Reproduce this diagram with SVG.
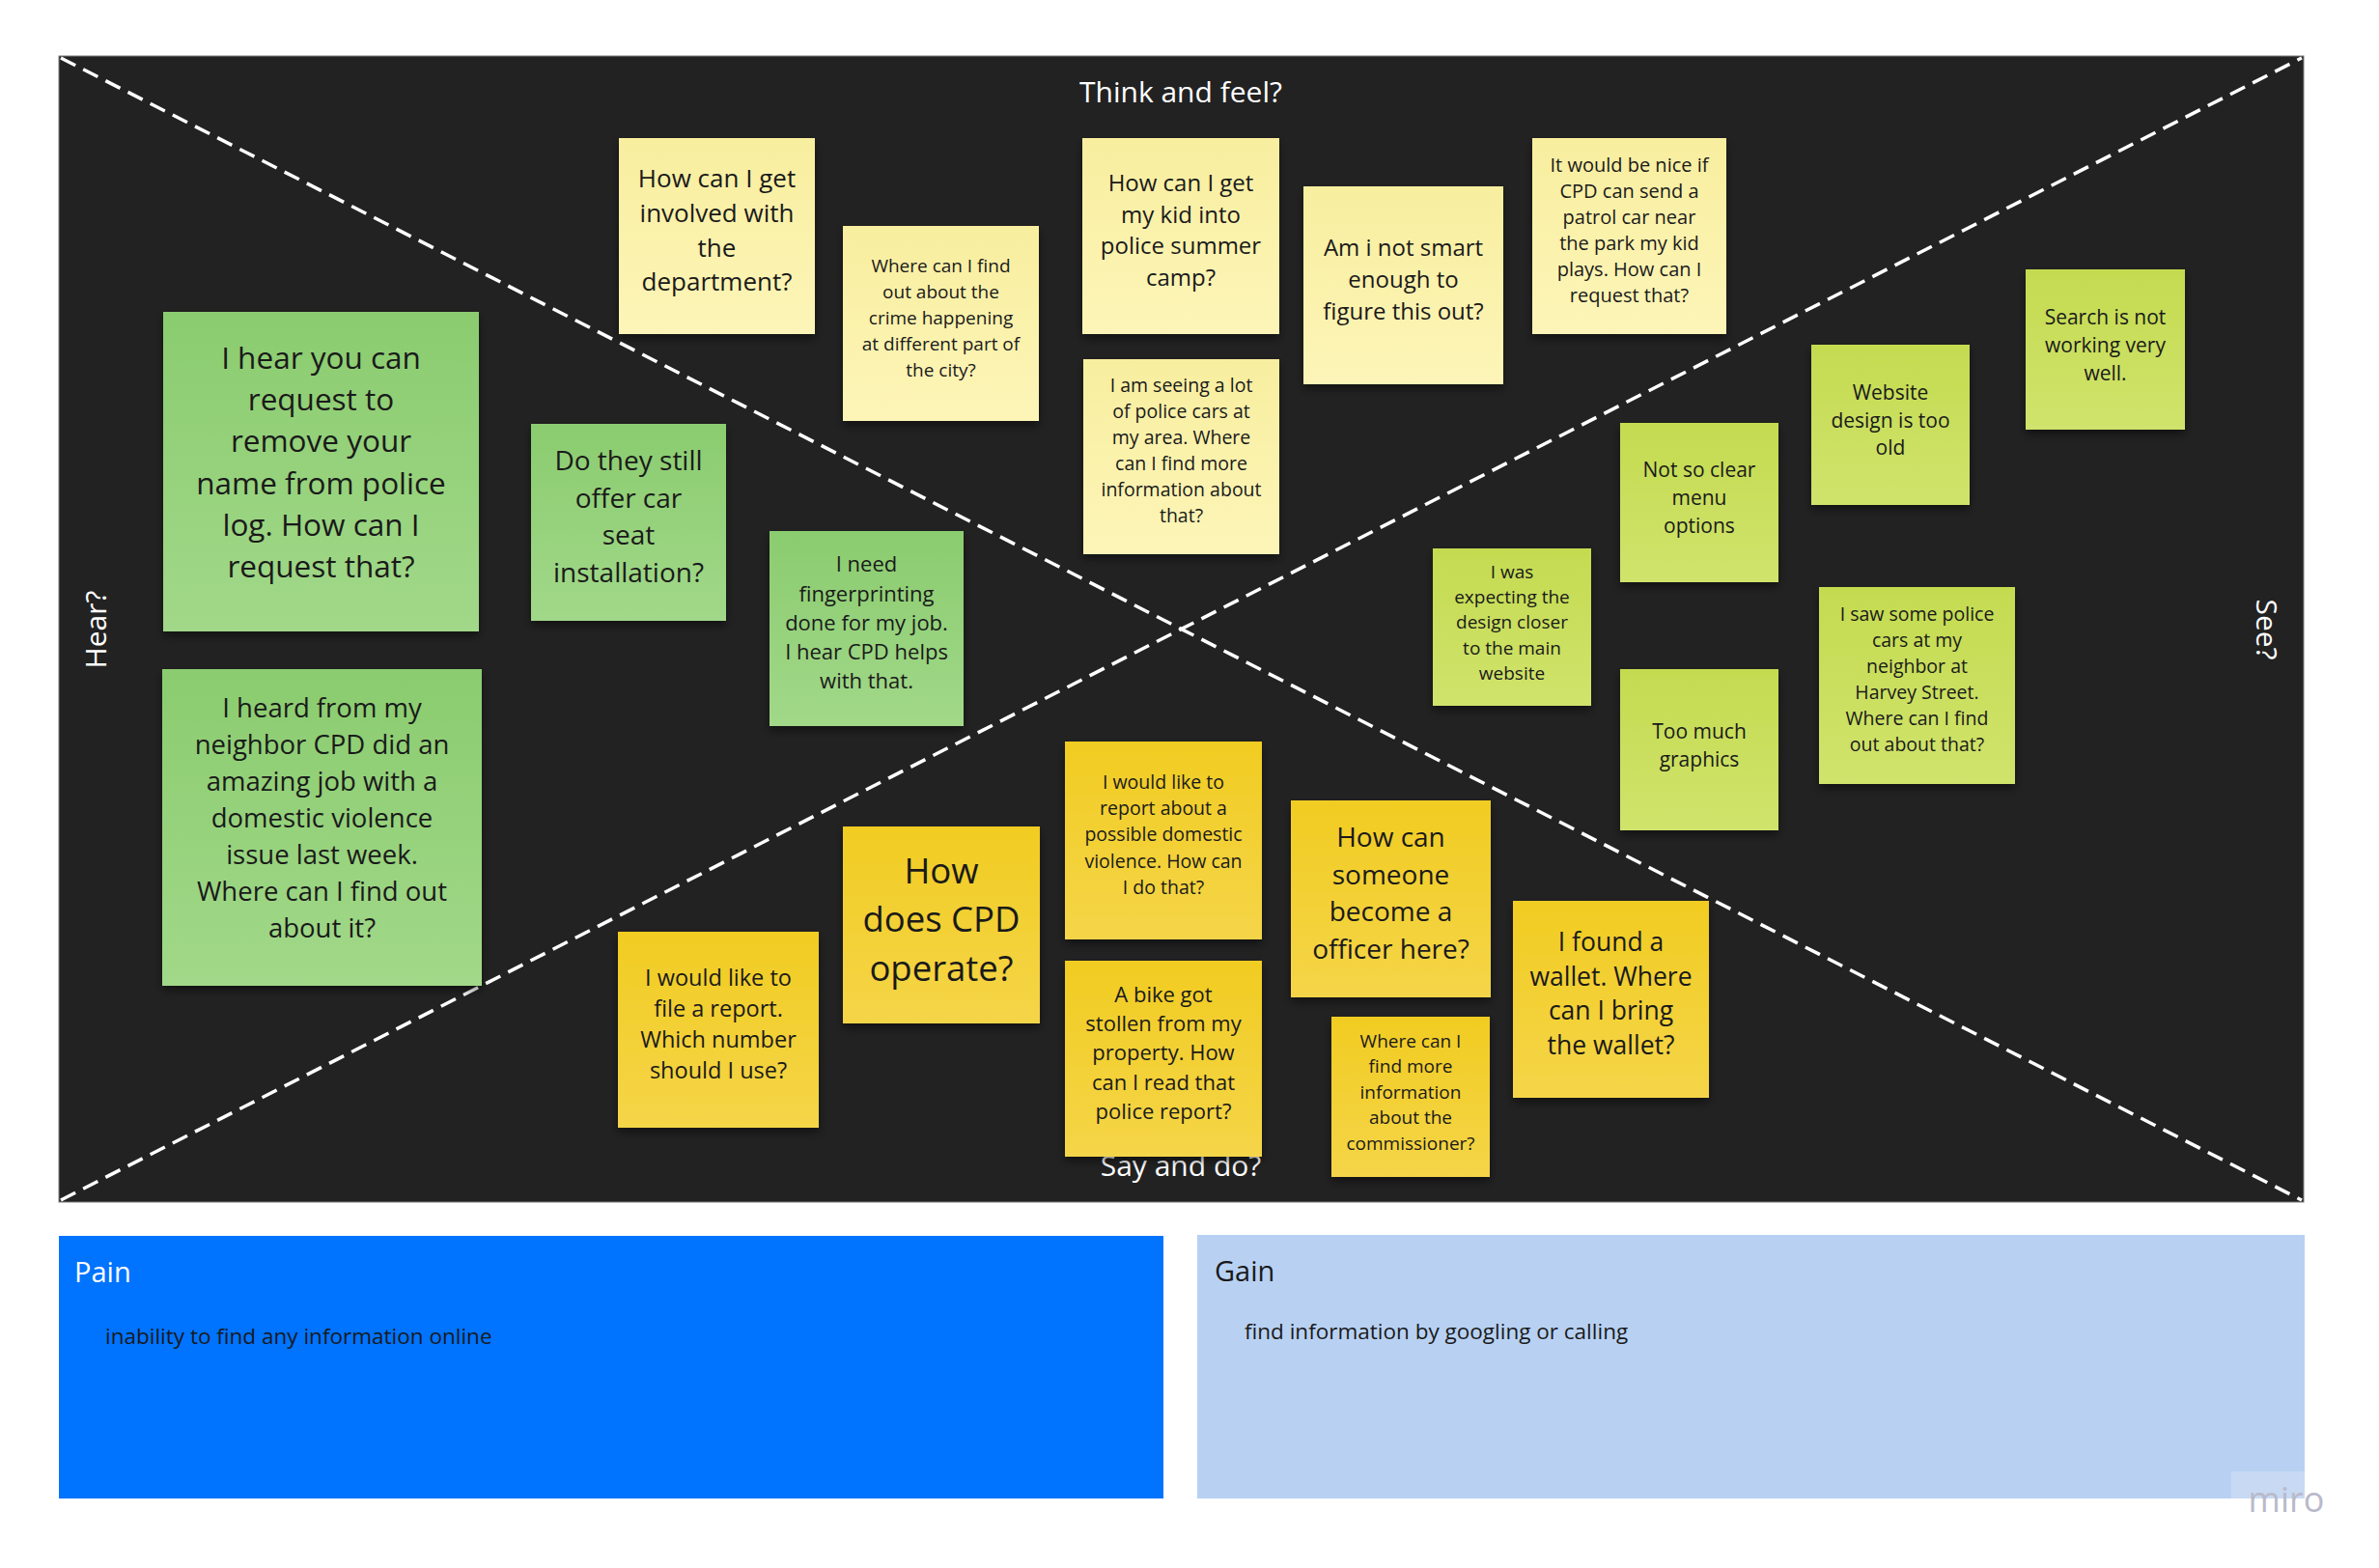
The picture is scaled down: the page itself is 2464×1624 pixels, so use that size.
<svg xmlns="http://www.w3.org/2000/svg" width="2464" height="1624" viewBox="0 0 2464 1624">
<style>
.lbl{font-family:"Open Sans","Liberation Sans",sans-serif;fill:#ffffff;font-size:30px}
.nt{font-family:"Open Sans","Liberation Sans",sans-serif;fill:#1a1a1a;text-anchor:middle}
.py{fill:url(#gPY)}
.gr{fill:url(#gGR)}
.lm{fill:url(#gLM)}
.yl{fill:url(#gYL)}
.note rect{filter:url(#sh)}
.div{stroke:#ffffff;stroke-width:3.5;stroke-dasharray:17 9;fill:none}
</style>
<defs>
<linearGradient id="gPY" x1="0" y1="0" x2="0" y2="1"><stop offset="0" stop-color="#f8ee9f"/><stop offset="1" stop-color="#fdf5b8"/></linearGradient>
<linearGradient id="gGR" x1="0" y1="0" x2="0" y2="1"><stop offset="0" stop-color="#8bcc6f"/><stop offset="1" stop-color="#a1d889"/></linearGradient>
<linearGradient id="gLM" x1="0" y1="0" x2="0" y2="1"><stop offset="0" stop-color="#c4db50"/><stop offset="1" stop-color="#d0e36c"/></linearGradient>
<linearGradient id="gYL" x1="0" y1="0" x2="0" y2="1"><stop offset="0" stop-color="#f1cc22"/><stop offset="1" stop-color="#f5d548"/></linearGradient>
<filter id="sh" x="-10%" y="-10%" width="120%" height="125%"><feDropShadow dx="0" dy="5" stdDeviation="5" flood-color="#000" flood-opacity="0.45"/></filter>
</defs>
<rect x="0" y="0" width="2464" height="1624" fill="#ffffff"/>
<g id="board">
<rect x="61" y="58" width="2325" height="1187" fill="#222222" stroke="#7a7a7a" stroke-width="1"/>
</g>
<g id="quadrant-lines">
<line class="div" x1="63" y1="60" x2="2384" y2="1243"/>
<line class="div" x1="63" y1="1243" x2="2384" y2="60"/>
</g>
<g id="labels">
<text class="lbl" x="1223" y="106" text-anchor="middle">Think and feel?</text>
<text class="lbl" x="1223" y="1218" text-anchor="middle" fill="#e6e6e6">Say and do?</text>
<text class="lbl" text-anchor="middle" transform="translate(110,652) rotate(-90)">Hear?</text>
<text class="lbl" text-anchor="middle" transform="translate(2337,652) rotate(90)">See?</text>
</g>

<g id="n1" class="note"><rect class="py" x="641" y="143" width="203" height="203"/>
<text class="nt" font-size="26"><tspan x="742.5" y="194.4">How can I get</tspan><tspan x="742.5" dy="35.6">involved with</tspan><tspan x="742.5" dy="35.6">the</tspan><tspan x="742.5" dy="35.6">department?</tspan></text></g>

<g id="n2" class="note"><rect class="py" x="873" y="234" width="203" height="202"/>
<text class="nt" font-size="19"><tspan x="974.5" y="281.8">Where can I find</tspan><tspan x="974.5" dy="27">out about the</tspan><tspan x="974.5" dy="27">crime happening</tspan><tspan x="974.5" dy="27">at different part of</tspan><tspan x="974.5" dy="27">the city?</tspan></text></g>

<g id="n3" class="note"><rect class="py" x="1121" y="143" width="204" height="203"/>
<text class="nt" font-size="24"><tspan x="1223" y="198.4">How can I get</tspan><tspan x="1223" dy="32.4">my kid into</tspan><tspan x="1223" dy="32.4">police summer</tspan><tspan x="1223" dy="32.4">camp?</tspan></text></g>

<g id="n4" class="note"><rect class="py" x="1350" y="193" width="207" height="205"/>
<text class="nt" font-size="24"><tspan x="1453.5" y="265.4">Am i not smart</tspan><tspan x="1453.5" dy="32.6">enough to</tspan><tspan x="1453.5" dy="32.6">figure this out?</tspan></text></g>

<g id="n5" class="note"><rect class="py" x="1587" y="143" width="201" height="203"/>
<text class="nt" font-size="20"><tspan x="1687.5" y="177.9">It would be nice if</tspan><tspan x="1687.5" dy="27.1">CPD can send a</tspan><tspan x="1687.5" dy="27.1">patrol car near</tspan><tspan x="1687.5" dy="27.1">the park my kid</tspan><tspan x="1687.5" dy="27.1">plays. How can I</tspan><tspan x="1687.5" dy="27.1">request that?</tspan></text></g>

<g id="n6" class="note"><rect class="py" x="1122" y="372" width="203" height="202"/>
<text class="nt" font-size="19.5"><tspan x="1223.5" y="406.4">I am seeing a lot</tspan><tspan x="1223.5" dy="27">of police cars at</tspan><tspan x="1223.5" dy="27">my area. Where</tspan><tspan x="1223.5" dy="27">can I find more</tspan><tspan x="1223.5" dy="27">information about</tspan><tspan x="1223.5" dy="27">that?</tspan></text></g>

<g id="n7" class="note"><rect class="gr" x="169" y="323" width="327" height="331"/>
<text class="nt" font-size="31.5"><tspan x="332.5" y="381.7">I hear you can</tspan><tspan x="332.5" dy="43.3">request to</tspan><tspan x="332.5" dy="43.3">remove your</tspan><tspan x="332.5" dy="43.3">name from police</tspan><tspan x="332.5" dy="43.3">log. How can I</tspan><tspan x="332.5" dy="43.3">request that?</tspan></text></g>

<g id="n8" class="note"><rect class="gr" x="550" y="439" width="202" height="204"/>
<text class="nt" font-size="28"><tspan x="651" y="486.6">Do they still</tspan><tspan x="651" dy="38.9">offer car</tspan><tspan x="651" dy="38.9">seat</tspan><tspan x="651" dy="38.9">installation?</tspan></text></g>

<g id="n9" class="note"><rect class="gr" x="797" y="550" width="201" height="202"/>
<text class="nt" font-size="22"><tspan x="897.5" y="592.4">I need</tspan><tspan x="897.5" dy="30.2">fingerprinting</tspan><tspan x="897.5" dy="30.2">done for my job.</tspan><tspan x="897.5" dy="30.2">I hear CPD helps</tspan><tspan x="897.5" dy="30.2">with that.</tspan></text></g>

<g id="n10" class="note"><rect class="gr" x="168" y="693" width="331" height="328"/>
<text class="nt" font-size="27.5"><tspan x="333.5" y="743.4">I heard from my</tspan><tspan x="333.5" dy="37.9">neighbor CPD did an</tspan><tspan x="333.5" dy="37.9">amazing job with a</tspan><tspan x="333.5" dy="37.9">domestic violence</tspan><tspan x="333.5" dy="37.9">issue last week.</tspan><tspan x="333.5" dy="37.9">Where can I find out</tspan><tspan x="333.5" dy="37.9">about it?</tspan></text></g>

<g id="n11" class="note"><rect class="lm" x="2098" y="279" width="165" height="166"/>
<text class="nt" font-size="21"><tspan x="2180.5" y="335.6">Search is not</tspan><tspan x="2180.5" dy="29">working very</tspan><tspan x="2180.5" dy="29">well.</tspan></text></g>

<g id="n12" class="note"><rect class="lm" x="1876" y="357" width="164" height="166"/>
<text class="nt" font-size="21"><tspan x="1958" y="414.1">Website</tspan><tspan x="1958" dy="28.5">design is too</tspan><tspan x="1958" dy="28.5">old</tspan></text></g>

<g id="n13" class="note"><rect class="lm" x="1678" y="438" width="164" height="165"/>
<text class="nt" font-size="21"><tspan x="1760" y="494.1">Not so clear</tspan><tspan x="1760" dy="29">menu</tspan><tspan x="1760" dy="29">options</tspan></text></g>

<g id="n14" class="note"><rect class="lm" x="1484" y="568" width="164" height="163"/>
<text class="nt" font-size="19"><tspan x="1566" y="598.8">I was</tspan><tspan x="1566" dy="26.3">expecting the</tspan><tspan x="1566" dy="26.3">design closer</tspan><tspan x="1566" dy="26.3">to the main</tspan><tspan x="1566" dy="26.3">website</tspan></text></g>

<g id="n15" class="note"><rect class="lm" x="1884" y="608" width="203" height="204"/>
<text class="nt" font-size="19.5"><tspan x="1985.5" y="643.4">I saw some police</tspan><tspan x="1985.5" dy="27">cars at my</tspan><tspan x="1985.5" dy="27">neighbor at</tspan><tspan x="1985.5" dy="27">Harvey Street.</tspan><tspan x="1985.5" dy="27">Where can I find</tspan><tspan x="1985.5" dy="27">out about that?</tspan></text></g>

<g id="n16" class="note"><rect class="lm" x="1678" y="693" width="164" height="167"/>
<text class="nt" font-size="21"><tspan x="1760" y="764.6">Too much</tspan><tspan x="1760" dy="29">graphics</tspan></text></g>

<g id="n17" class="note"><rect class="yl" x="640" y="965" width="208" height="203"/>
<text class="nt" font-size="23.5"><tspan x="744" y="1020.9">I would like to</tspan><tspan x="744" dy="32">file a report.</tspan><tspan x="744" dy="32">Which number</tspan><tspan x="744" dy="32">should I use?</tspan></text></g>

<g id="n18" class="note"><rect class="yl" x="873" y="856" width="204" height="204"/>
<text class="nt" font-size="36.5"><tspan x="975" y="914.7">How</tspan><tspan x="975" dy="50.4">does CPD</tspan><tspan x="975" dy="50.4">operate?</tspan></text></g>

<g id="n19" class="note"><rect class="yl" x="1103" y="768" width="204" height="205"/>
<text class="nt" font-size="19.5"><tspan x="1205" y="817">I would like to</tspan><tspan x="1205" dy="27.2">report about a</tspan><tspan x="1205" dy="27.2">possible domestic</tspan><tspan x="1205" dy="27.2">violence. How can</tspan><tspan x="1205" dy="27.2">I do that?</tspan></text></g>

<g id="n20" class="note"><rect class="yl" x="1103" y="995" width="204" height="203"/>
<text class="nt" font-size="22"><tspan x="1205" y="1037.7">A bike got</tspan><tspan x="1205" dy="30.3">stollen from my</tspan><tspan x="1205" dy="30.3">property. How</tspan><tspan x="1205" dy="30.3">can I read that</tspan><tspan x="1205" dy="30.3">police report?</tspan></text></g>

<g id="n21" class="note"><rect class="yl" x="1337" y="829" width="207" height="204"/>
<text class="nt" font-size="28"><tspan x="1440.5" y="877.1">How can</tspan><tspan x="1440.5" dy="38.6">someone</tspan><tspan x="1440.5" dy="38.6">become a</tspan><tspan x="1440.5" dy="38.6">officer here?</tspan></text></g>

<g id="n22" class="note"><rect class="yl" x="1379" y="1053" width="164" height="166"/>
<text class="nt" font-size="19"><tspan x="1461" y="1085">Where can I</tspan><tspan x="1461" dy="26.4">find more</tspan><tspan x="1461" dy="26.4">information</tspan><tspan x="1461" dy="26.4">about the</tspan><tspan x="1461" dy="26.4">commissioner?</tspan></text></g>

<g id="n23" class="note"><rect class="yl" x="1567" y="933" width="203" height="204"/>
<text class="nt" font-size="26.5"><tspan x="1668.5" y="985">I found a</tspan><tspan x="1668.5" dy="35.6">wallet. Where</tspan><tspan x="1668.5" dy="35.6">can I bring</tspan><tspan x="1668.5" dy="35.6">the wallet?</tspan></text></g>

<g id="pain">
<rect x="61" y="1280" width="1144" height="272" fill="#0073ff"/>
<text x="77" y="1328" font-family="Open Sans, Liberation Sans, sans-serif" font-size="29" fill="#ffffff">Pain</text>
<text x="109" y="1392" font-family="Open Sans, Liberation Sans, sans-serif" font-size="22.5" fill="#1a1a1a">inability to find any information online</text>
</g>
<g id="gain">
<rect x="1240" y="1279" width="1147" height="273" fill="#b8d1f3"/>
<text x="1258" y="1327" font-family="Open Sans, Liberation Sans, sans-serif" font-size="29" fill="#1a1a1a">Gain</text>
<text x="1289" y="1387" font-family="Open Sans, Liberation Sans, sans-serif" font-size="22.5" fill="#1a1a1a">find information by googling or calling</text>
</g>
<g id="watermark">
<rect x="2311" y="1524" width="76" height="28" fill="#c8d9f3"/>
<text x="2368" y="1566" text-anchor="middle" font-family="Open Sans, Liberation Sans, sans-serif" font-size="36" fill="#b9b9cb">miro</text>
</g>
</svg>
